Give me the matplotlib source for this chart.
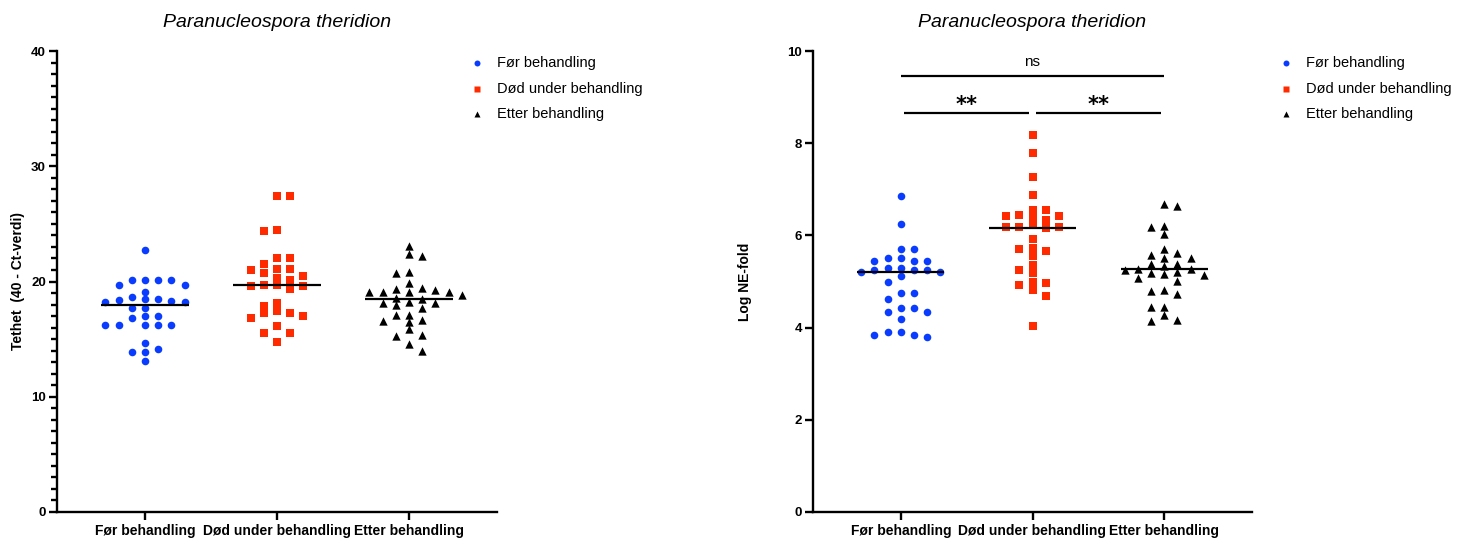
import numpy as np
import matplotlib
matplotlib.use("Agg")
import matplotlib.pyplot as plt
from matplotlib.lines import Line2D

# ---------------------------------------------------------------- data
groups = ["Før behandling", "Død under behandling", "Etter behandling"]
species = "Paranucleospora theridion"

# Tethet (40 - Ct-verdi)
tethet_for = [22.7, 20.1, 20.1, 20.1, 20.1, 19.7, 19.7, 19.1, 18.48, 18.68,
              18.48, 18.19, 18.39, 18.3, 18.19, 17.7, 17.7, 16.8, 17.0, 17.0,
              16.2, 16.2, 16.2, 16.2, 16.2, 14.7, 14.1, 13.9, 13.9, 13.1]
tethet_dod = [27.45, 27.45, 24.4, 24.5, 22.07, 22.07, 21.55, 20.77, 21.0, 21.1,
              21.1, 20.5, 20.13, 19.32, 20.33, 19.6, 19.7, 19.6, 19.7, 18.16,
              17.87, 17.24, 17.3, 17.4, 17.03, 16.83, 16.14, 15.56, 15.56, 14.78]
tethet_etter = [23.1, 22.2, 22.4, 20.7, 20.8, 19.87, 19.06, 19.29, 19.06, 19.4,
                19.06, 19.37, 19.06, 18.8, 18.48, 18.6, 17.99, 18.1, 18.16, 18.25,
                17.7, 17.1, 17.1, 16.46, 16.57, 16.66, 15.85, 15.27, 15.36, 14.55,
                13.97]

# Log NE-fold
ne_for = [6.85, 6.25, 5.70, 5.70, 5.44, 5.44, 5.44, 5.52, 5.52, 5.24,
          5.21, 5.24, 5.26, 5.30, 5.21, 5.30, 5.13, 5.00, 4.76, 4.76,
          4.63, 4.43, 4.43, 4.34, 4.34, 4.19, 3.83, 3.90, 3.85, 3.90, 3.79]
ne_dod = [8.18, 7.79, 7.27, 6.88, 6.55, 6.33, 6.41, 6.42, 6.55, 6.44,
          6.39, 6.23, 6.15, 6.19, 6.19, 6.19, 5.92, 5.73, 5.70, 5.55,
          5.66, 5.36, 5.19, 5.25, 4.97, 4.82, 4.99, 4.93, 4.69, 4.04]
ne_etter = [6.68, 6.64, 6.20, 6.18, 6.03, 5.70, 5.52, 5.57, 5.61, 5.51,
            5.38, 5.39, 5.26, 5.27, 5.34, 5.28, 5.16, 5.19, 5.14, 5.21,
            5.01, 5.08, 4.79, 4.73, 4.82, 4.45, 4.45, 4.28, 4.15, 4.16]

# pairwise tests shown above the NE-fold panel
comparisons = [(0, 1, "**"), (1, 2, "**"), (0, 2, "ns")]

# ---------------------------------------------------------------- style
FONT = "Liberation Sans"
plt.rcParams["font.family"] = [FONT, "DejaVu Sans"]

colors = ["#0A3CFF", "#FF2A00", "#000000"]
markers = ["o", "s", "^"]
sizes = [30, 34, 36]
legend_ms = [4.3, 5.0, 4.0]

W, H = 1468, 543
fig = plt.figure(figsize=(W / 100, H / 100), dpi=100)


def px_axes(x0, y0, x1, y1):
    return fig.add_axes([x0 / W, 1 - y1 / H, (x1 - x0) / W, (y1 - y0) / H])


def swarm_offsets(ax, values, step_px=13.2, min_dy_px=7.0):
    """Column-grid beeswarm: spread points sideways where they would overlap."""
    vals = np.asarray(values, float)
    p0 = ax.transData.transform((0, 0))
    py = (ax.transData.transform(np.column_stack([np.zeros_like(vals), vals])) - p0)[:, 1]
    px_per_x = (ax.transData.transform((1, 0)) - p0)[0]
    order = np.argsort(-vals, kind="stable")
    cols = np.zeros(len(vals), int)
    placed = []
    flip = 1
    for i in order:
        cands = [0]
        for k in range(1, 12):
            cands += [flip * k, -flip * k]
        for c in cands:
            if all(not (pc == c and abs(py[i] - pp) < min_dy_px) for pc, pp in placed):
                cols[i] = c
                break
        placed.append((cols[i], py[i]))
        if cols[i] != 0:
            flip = -flip
    return cols * step_px / px_per_x


def draw_panel(ax, data, ylim, major, minor, ylabel, label_x):
    ax.set_xlim(-0.667, 2.667)
    ax.set_ylim(*ylim)
    for i, vals in enumerate(data):
        offs = swarm_offsets(ax, vals)
        ax.scatter(i + offs, vals, s=sizes[i], marker=markers[i], color=colors[i],
                   linewidths=0, zorder=3, clip_on=False)
        med = np.median(vals)
        ax.plot([i - 0.33, i + 0.33], [med, med], color="black", lw=1.6,
                zorder=4, solid_capstyle="butt")

    for side in ("top", "right"):
        ax.spines[side].set_visible(False)
    for side in ("left", "bottom"):
        ax.spines[side].set_linewidth(1.7)

    ax.set_xticks(range(len(groups)))
    ax.set_xticklabels(groups, fontsize=10, fontweight="bold")
    ax.tick_params(axis="x", length=5.5, width=1.7, pad=3)
    ax.set_yticks(major)
    ax.set_yticklabels([f"{v:g}" for v in major], fontsize=9.5, fontweight="bold")
    ax.tick_params(axis="y", which="major", length=6, width=1.7, pad=2)
    if minor is not None:
        ax.set_yticks(minor, minor=True)
        ax.tick_params(axis="y", which="minor", length=4.5, width=1.7)
    ax.set_ylabel(ylabel, fontsize=10, fontweight="bold")
    ax.yaxis.set_label_coords(label_x, 0.5)
    ax.set_title(species, fontsize=14, style="italic", pad=17)


def legend(x_marker, x_text, rows):
    for i, name in enumerate(groups):
        y = 1 - rows[i] / H
        fig.add_artist(Line2D([x_marker / W], [y], transform=fig.transFigure,
                              marker=markers[i], ms=legend_ms[i], color=colors[i],
                              mec="none", ls="none"))
        fig.text(x_text / W, y, name, fontsize=10.5, va="center", ha="left")


# ---------------------------------------------------------------- left panel
ax1 = px_axes(57, 51, 497, 512)
draw_panel(ax1, [tethet_for, tethet_dod, tethet_etter], (0, 40),
           [0, 10, 20, 30, 40], [v for v in range(41) if v % 10],
           "Tethet  (40 - Ct-verdi)", -0.073)
legend(477, 497, [63, 89, 114])

# ---------------------------------------------------------------- right panel
ax2 = px_axes(813, 51, 1252, 512)
draw_panel(ax2, [ne_for, ne_dod, ne_etter], (0, 10),
           [0, 2, 4, 6, 8, 10], None, "Log NE-fold", -0.139)
legend(1286, 1306, [63, 89, 114])

for a, b, label in comparisons:
    wide = (b - a) > 1
    y = 9.45 if wide else 8.65
    gap = 0.0 if wide else 0.025
    ax2.plot([a + gap, b - gap], [y, y], color="black", lw=1.6,
             solid_capstyle="butt", clip_on=False)
    if label == "ns":
        ax2.text((a + b) / 2, y + 0.15, label, ha="center", va="bottom", fontsize=11)
    else:
        ax2.text((a + b) / 2, y - 0.03, label, ha="center", va="bottom",
                 fontsize=15, fontweight="bold", family="DejaVu Sans")

fig.savefig("out.png", dpi=100)
